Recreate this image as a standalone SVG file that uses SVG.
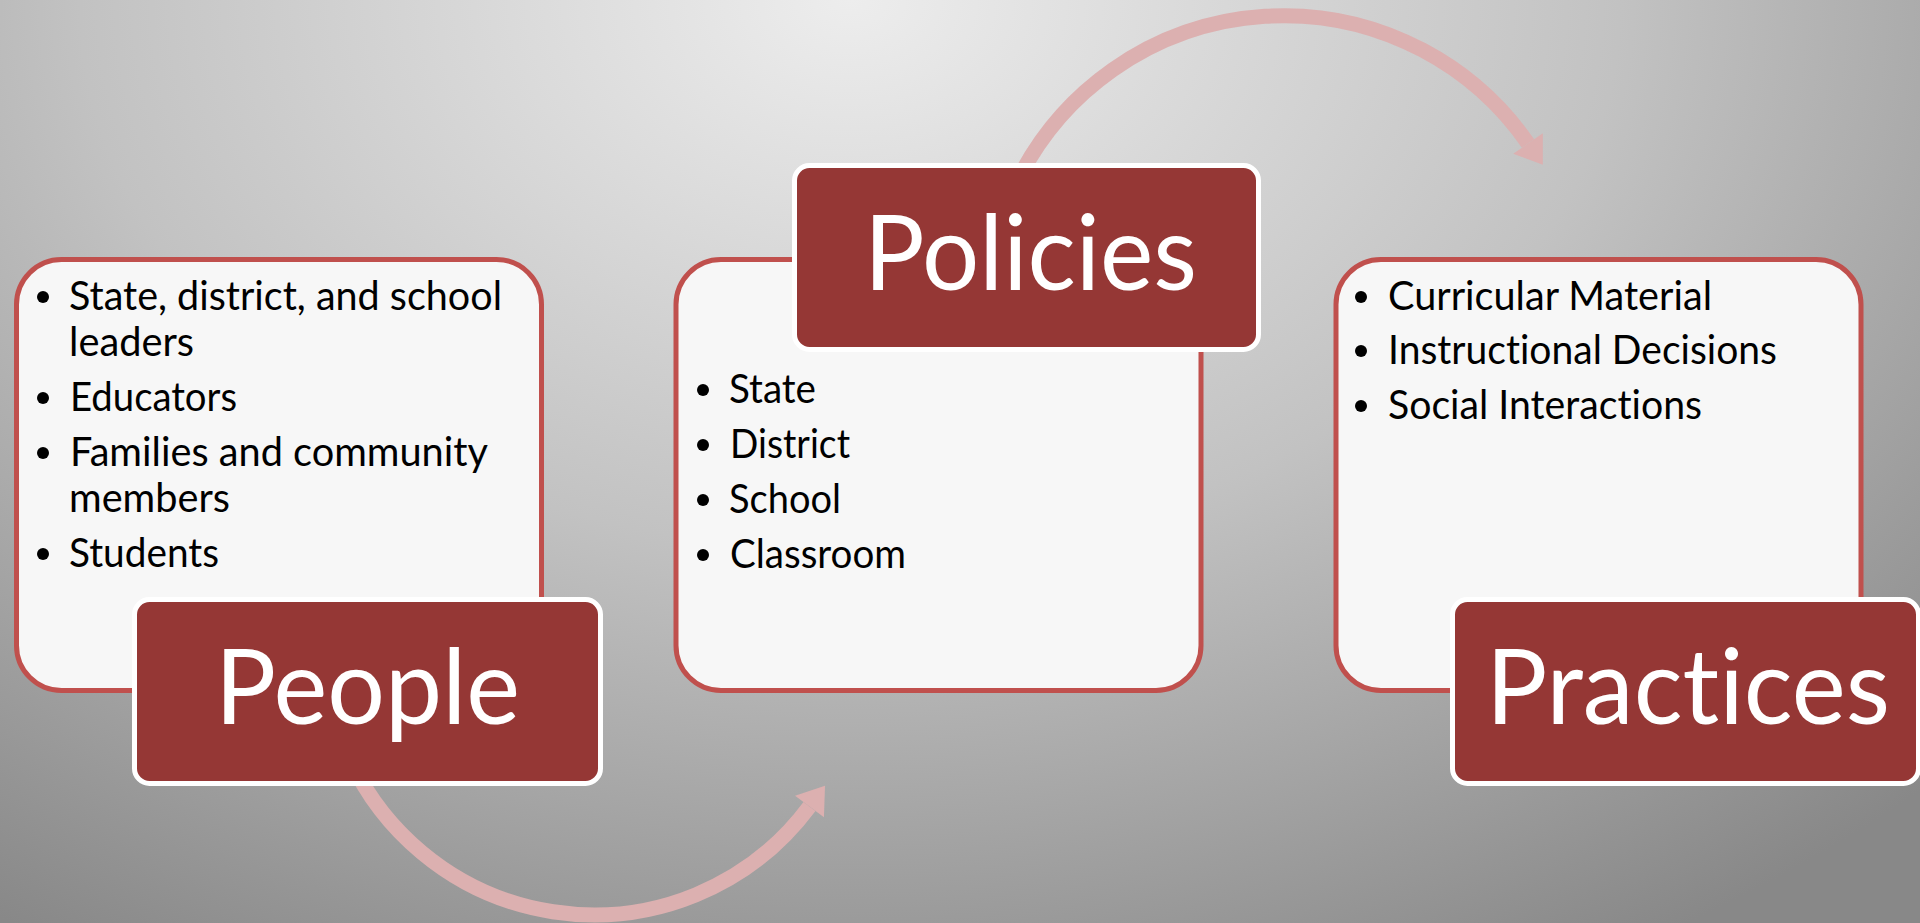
<svg xmlns="http://www.w3.org/2000/svg" width="1920" height="923" viewBox="0 0 1920 923">
<defs>
  <radialGradient id="bg" gradientUnits="userSpaceOnUse" cx="850" cy="0" r="1100" gradientTransform="translate(850 0) scale(1.4 1) translate(-850 0)">
    <stop offset="0" stop-color="#ededed"/>
    <stop offset="0.5" stop-color="#c2c2c2"/>
    <stop offset="1" stop-color="#888888"/>
  </radialGradient>
  <marker id="head" markerUnits="userSpaceOnUse" markerWidth="40" markerHeight="40" refX="0" refY="0" viewBox="-2 -20 32 40" orient="auto" overflow="visible">
    <path d="M0,-18 L26,0 L0,18 Z" fill="#dcb0b0"/>
  </marker>
  <style>
    text{font-variant-ligatures:none;font-feature-settings:"liga" 0,"clig" 0,"dlig" 0}
    .panel{fill:#f7f7f7;stroke:#c0504d;stroke-width:5}
    .title{fill:#953735;stroke:#ffffff;stroke-width:5}
    .item{font-family:Lato,"Open Sans","Liberation Sans",sans-serif;font-size:40px;fill:#000000}
    .head{font-family:Lato,"Open Sans","Liberation Sans",sans-serif;font-size:104px;fill:#ffffff;text-anchor:middle}
    .dot{fill:#000000}
    .arc{fill:none;stroke:#dcb0b0;stroke-width:15;marker-end:url(#head)}
  </style>
</defs>
<rect x="0" y="0" width="1920" height="923" fill="url(#bg)"/>

<g id="connectors">
  <path class="arc" d="M 340 734 A 268.6 268.6 0 0 0 809.5 806.5"/>
  <path class="arc" d="M 1020 175.7 A 297.4 297.4 0 0 1 1528 143.5"/>
</g>

<g id="people">
  <rect class="panel" x="16.5" y="259.5" width="525" height="431" rx="45"/>
  <circle class="dot" cx="43" cy="297" r="6"/>
  <text class="item" x="69" y="310" textLength="433" lengthAdjust="spacingAndGlyphs">State, district, and school</text>
  <text class="item" x="69" y="356" textLength="125" lengthAdjust="spacingAndGlyphs">leaders</text>
  <circle class="dot" cx="43" cy="398" r="6"/>
  <text class="item" x="70" y="411" textLength="167" lengthAdjust="spacingAndGlyphs">Educators</text>
  <circle class="dot" cx="43" cy="453" r="6"/>
  <text class="item" x="70" y="466" textLength="418" lengthAdjust="spacingAndGlyphs">Families and community</text>
  <text class="item" x="69" y="512" textLength="161" lengthAdjust="spacingAndGlyphs">members</text>
  <circle class="dot" cx="43" cy="554" r="6"/>
  <text class="item" x="69" y="567" textLength="150" lengthAdjust="spacingAndGlyphs">Students</text>
  <rect class="title" x="134.5" y="599.5" width="466" height="184" rx="15"/>
  <text class="head" x="367.5" y="724" textLength="305" lengthAdjust="spacingAndGlyphs">People</text>
</g>

<g id="policies">
  <rect class="panel" x="676" y="259.5" width="525" height="431" rx="45"/>
  <circle class="dot" cx="703" cy="390" r="6"/>
  <text class="item" x="729" y="403" textLength="87" lengthAdjust="spacingAndGlyphs">State</text>
  <circle class="dot" cx="703" cy="445" r="6"/>
  <text class="item" x="730" y="458" textLength="120" lengthAdjust="spacingAndGlyphs">District</text>
  <circle class="dot" cx="703" cy="500" r="6"/>
  <text class="item" x="729" y="513" textLength="112" lengthAdjust="spacingAndGlyphs">School</text>
  <circle class="dot" cx="703" cy="555" r="6"/>
  <text class="item" x="730" y="568" textLength="176" lengthAdjust="spacingAndGlyphs">Classroom</text>
  <rect class="title" x="794.5" y="165.5" width="464" height="184" rx="15"/>
  <text class="head" x="1030.5" y="290" textLength="333" lengthAdjust="spacingAndGlyphs">Policies</text>
</g>

<g id="practices">
  <rect class="panel" x="1336" y="259.5" width="525" height="431" rx="45"/>
  <circle class="dot" cx="1361" cy="297" r="6"/>
  <text class="item" x="1388" y="310" textLength="324" lengthAdjust="spacingAndGlyphs">Curricular Material</text>
  <circle class="dot" cx="1361" cy="351" r="6"/>
  <text class="item" x="1388" y="364" textLength="389" lengthAdjust="spacingAndGlyphs">Instructional Decisions</text>
  <circle class="dot" cx="1361" cy="406" r="6"/>
  <text class="item" x="1388" y="419" textLength="314" lengthAdjust="spacingAndGlyphs">Social Interactions</text>
  <rect class="title" x="1452.5" y="599.5" width="466" height="184" rx="15"/>
  <text class="head" x="1688" y="724" textLength="404" lengthAdjust="spacingAndGlyphs">Practices</text>
</g>
</svg>
